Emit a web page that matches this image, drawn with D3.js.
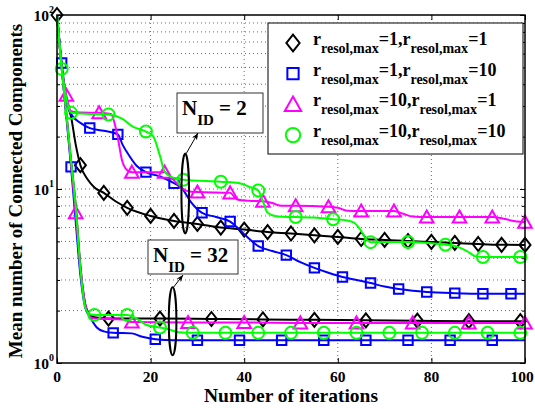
<!DOCTYPE html>
<html>
<head>
<meta charset="utf-8">
<script src="https://cdn.jsdelivr.net/npm/d3@7"></script>
<style>
  body { margin: 0; background: #fff; }
  text { font-family: "Liberation Serif", "Times New Roman", serif; font-weight: bold; fill: #000; }
</style>
</head>
<body>
<div id="chart"></div>
<script>
// axis ticks
const iterTicks = [0, 20, 40, 60, 80, 100];
const decadeTicks = [1, 10, 100];

// r_resol,max=1, r_resol,max=1 (black diamonds)
const blackN2 = [[0,100],[1,50],[2,32],[3,26],[4,18],[5,13.7],[6.6,11.3],[8,10.2],[10,9.5],[12.5,8.5],[15,7.8],[20,7.0],[25,6.55],[30,6.3],[35,6.0],[40,5.85],[45,5.66],[50,5.55],[55,5.42],[60,5.3],[65,5.16],[70,5.1],[75,5.02],[80,4.96],[85,4.9],[90,4.83],[95,4.78],[100,4.77]];
const blackN2Marks = [0,5,10,15,20,25,30,35,40,45,50,55,60,65,70,75,80,85,90,95,100];
const blackN32 = [[0,100],[1,50],[2,27],[3,14.5],[4,8],[5,3.6],[6,2.2],[7,1.9],[8,1.83],[11,1.8],[22,1.8],[33,1.79],[44,1.78],[55,1.77],[66,1.76],[77,1.75],[88,1.74],[99,1.74],[100,1.74]];
const blackN32Marks = [11,22,33,44,55,66,77,88,99];

// r_resol,max=1, r_resol,max=10 (blue squares)
const blueN2 = [[0,100],[1,53],[2,33],[3,27],[5,24],[7,22.4],[10,21.6],[13,20.6],[14,18],[15.6,15.3],[17,13.6],[19,12.5],[22,11.8],[25,10.8],[26.7,10.1],[28.5,8.5],[31,7.3],[34,6.9],[37,6.5],[40,5.5],[43,4.7],[46,4.4],[49,4.17],[52,3.8],[55,3.52],[58,3.3],[61,3.12],[64,3.0],[67,2.88],[70,2.75],[73,2.66],[76,2.6],[79,2.56],[85,2.52],[91,2.5],[97,2.5],[100,2.5]];
const blueN2Marks = [1,7,13,19,25,31,37,43,49,55,61,67,73,79,85,91,97];
const blueN32 = [[0,100],[1,50],[2,26],[3,13.4],[4,6.5],[5,3.2],[6,2.1],[7,1.85],[8.5,1.6],[10,1.52],[12,1.49],[16,1.48],[18,1.42],[21,1.37],[25,1.35],[30,1.35],[39,1.35],[48,1.35],[57,1.35],[66,1.35],[75,1.35],[84,1.35],[93,1.35],[100,1.35]];
const blueN32Marks = [3,12,21,30,39,48,57,66,75,84,93];

// r_resol,max=10, r_resol,max=1 (magenta triangles)
const magentaN2 = [[0,100],[1,50],[2,34.6],[3,28],[5,27.5],[9,27.4],[11.5,27],[12.8,21],[13.9,14.6],[15.2,12.7],[16,12.5],[23,12.5],[24.5,11.6],[26,10.5],[28,9.7],[30,9.6],[37,9.5],[38.5,8.7],[41,8.55],[44,8.5],[46,8.3],[48,8.0],[51,8.0],[58,7.9],[60,7.8],[62,7.5],[65,7.47],[72,7.47],[74,7.2],[76,6.95],[79,6.9],[86,6.9],[93,6.9],[95,6.8],[97,6.6],[100,6.45]];
const magentaN2Marks = [2,9,16,23,30,37,44,51,58,65,72,79,86,93,100];
const magentaN32 = [[0,100],[1,50],[2,27],[3,14],[4,7.3],[5,3.5],[6,2.2],[7,1.85],[8,1.8],[14,1.78],[16,1.72],[28,1.71],[40,1.71],[52,1.7],[64,1.7],[76,1.7],[88,1.7],[100,1.7]];
const magentaN32Marks = [4,16,28,40,52,64,76,88,100];

// r_resol,max=10, r_resol,max=10 (green circles)
const greenN2 = [[0,100],[1,50],[2,33],[3,27.4],[7,27],[11,26.8],[13.9,25.4],[16.2,22.8],[19,21.4],[20.5,20.2],[22,15.5],[23,12.6],[24.5,11.7],[27,11.3],[35,11.0],[39,10.8],[41,10.3],[43,9.8],[44,8.5],[45,7.3],[47,6.95],[51,6.9],[55,6.85],[59,6.7],[62,6.6],[63.5,6.4],[64.7,5.9],[66.2,5.1],[67,4.95],[75,4.96],[83,4.78],[85,4.7],[87.6,4.4],[89.5,4.1],[91,4.07],[99,4.07],[100,4.07]];
const greenN2Marks = [3,11,19,27,35,43,51,59,67,75,83,91,99];
const greenN32 = [[0,100],[1,49],[2,27],[3,14.5],[4,8],[5,3.5],[6,2.1],[7,1.9],[8,1.89],[15,1.89],[17,1.8],[19,1.66],[22,1.6],[24,1.56],[26,1.5],[29,1.49],[36,1.49],[43,1.49],[50,1.49],[57,1.49],[64,1.49],[71,1.49],[78,1.49],[85,1.49],[92,1.49],[99,1.49],[100,1.49]];
const greenN32Marks = [1,8,15,22,29,36,43,50,57,64,71,78,85,92,99];

const legendValues = [['1', '1'], ['1', '10'], ['10', '1'], ['10', '10']];

const margin = { top: 15, right: 10, bottom: 46, left: 57 };
const width = 535 - margin.left - margin.right;
const height = 409 - margin.top - margin.bottom;

const series = [
  { color: '#000000', symbol: 'diamond', curves: [[blackN2, blackN2Marks], [blackN32, blackN32Marks]] },
  { color: '#0000ff', symbol: 'square', curves: [[blueN2, blueN2Marks], [blueN32, blueN32Marks]] },
  { color: '#ff00ff', symbol: 'triangle', curves: [[magentaN2, magentaN2Marks], [magentaN32, magentaN32Marks]] },
  { color: '#00ff00', symbol: 'circle', curves: [[greenN2, greenN2Marks], [greenN32, greenN32Marks]] }
];

function symbolPath(type, k) {
  if (type === 'diamond') return `M0,${-7*k}L${5.5*k},0L0,${7*k}L${-5.5*k},0Z`;
  if (type === 'square') return `M${-4.7*k},${-4.7*k}h${9.4*k}v${9.4*k}h${-9.4*k}Z`;
  if (type === 'triangle') return `M0,${-6.5*k}L${6.8*k},${5.5*k}L${-6.8*k},${5.5*k}Z`;
  const r = 6 * k;
  return `M${r},0A${r},${r} 0 1,1 ${-r},0A${r},${r} 0 1,1 ${r},0Z`;
}

const svg = d3.select('#chart')
  .append('svg')
  .attr('width', 535)
  .attr('height', 409);

svg.append('defs').append('marker')
  .attr('id', 'arrow')
  .attr('viewBox', '0 0 10 10')
  .attr('refX', 10).attr('refY', 5)
  .attr('markerWidth', 7).attr('markerHeight', 7)
  .attr('orient', 'auto')
  .append('path')
  .attr('d', 'M0,1L10,5L0,9L3,5Z')
  .attr('fill', '#000');

const g = svg.append('g')
  .attr('transform', `translate(${margin.left},${margin.top})`);

const x = d3.scaleLinear().domain([0, 100]).range([0, width]);
const y = d3.scaleLog().domain([1, 100]).range([height, 0]);

const allY = y.ticks();

// grid
g.append('g').selectAll('line')
  .data(iterTicks.filter(d => d > 0 && d < 100))
  .enter().append('line')
  .attr('x1', d => x(d)).attr('x2', d => x(d))
  .attr('y1', 0).attr('y2', height)
  .attr('stroke', '#444').attr('stroke-width', 0.8)
  .attr('stroke-dasharray', '1,3');

g.append('g').selectAll('line')
  .data(allY.filter(d => d > 1 && d < 100))
  .enter().append('line')
  .attr('x1', 0).attr('x2', width)
  .attr('y1', d => y(d)).attr('y2', d => y(d))
  .attr('stroke', '#444').attr('stroke-width', 0.8)
  .attr('stroke-dasharray', '1,3');

// inward ticks on all sides
const xAxisB = g.append('g').attr('transform', `translate(0,${height})`)
  .call(d3.axisBottom(x).tickValues(iterTicks).tickSizeInner(-5).tickSizeOuter(0).tickFormat(''));
const xAxisT = g.append('g')
  .call(d3.axisTop(x).tickValues(iterTicks).tickSizeInner(-5).tickSizeOuter(0).tickFormat(''));
const yAxisL = g.append('g')
  .call(d3.axisLeft(y).tickValues(allY).tickSizeInner(-3).tickSizeOuter(0).tickFormat(''));
const yAxisR = g.append('g').attr('transform', `translate(${width},0)`)
  .call(d3.axisRight(y).tickValues(allY).tickSizeInner(-3).tickSizeOuter(0).tickFormat(''));
yAxisL.selectAll('.tick line').filter(d => decadeTicks.includes(d)).attr('x2', 5);
yAxisR.selectAll('.tick line').filter(d => decadeTicks.includes(d)).attr('x2', -5);
[xAxisB, xAxisT, yAxisL, yAxisR].forEach(a => {
  a.select('.domain').remove();
  a.selectAll('.tick line').attr('stroke', '#000').attr('stroke-width', 1);
});

// tick labels (last one nudged in so it is not cut by the page edge)
g.append('g').selectAll('text')
  .data(iterTicks)
  .enter().append('text')
  .attr('x', d => x(d) - (d === 100 ? 3 : 0))
  .attr('y', height + 19)
  .attr('text-anchor', 'middle')
  .style('font-size', '15.5px')
  .text(d => d);

const yLab = g.append('g').selectAll('text')
  .data(decadeTicks)
  .enter().append('text')
  .attr('x', -3)
  .attr('y', d => y(d) + 6)
  .attr('text-anchor', 'end')
  .style('font-size', '15.5px');
yLab.append('tspan').text('10');
yLab.append('tspan')
  .attr('dy', -8)
  .style('font-size', '10px')
  .text(d => Math.round(Math.log10(d)));

// curves
const line = d3.line()
  .x(d => x(d[0]))
  .y(d => y(d[1]))
  .curve(d3.curveMonotoneX);

series.forEach(s => {
  s.curves.forEach(([pts, marks]) => {
    g.append('path')
      .datum(pts)
      .attr('d', line)
      .attr('fill', 'none')
      .attr('stroke', s.color)
      .attr('stroke-width', 2);
    const lookup = new Map(pts.map(p => [p[0], p[1]]));
    g.append('g').selectAll('path')
      .data(marks)
      .enter().append('path')
      .attr('transform', d => `translate(${x(d)},${y(lookup.get(d))})`)
      .attr('d', symbolPath(s.symbol, 1))
      .attr('fill', 'none')
      .attr('stroke', s.color)
      .attr('stroke-width', 2);
  });
});

// frame
g.append('rect')
  .attr('width', width).attr('height', height)
  .attr('fill', 'none').attr('stroke', '#000').attr('stroke-width', 1.5);

// annotations: ellipse around the curve group, boxed label, arrow
function annotate(cx, cyVal, ry, box, label, arrowTo) {
  const ex = x(cx), ey = y(cyVal);
  g.append('ellipse')
    .attr('cx', ex).attr('cy', ey)
    .attr('rx', 3.8).attr('ry', ry)
    .attr('fill', 'none').attr('stroke', '#000').attr('stroke-width', 2);
  g.append('rect')
    .attr('x', box[0]).attr('y', box[1]).attr('width', box[2]).attr('height', box[3])
    .attr('fill', '#fff').attr('stroke', '#333').attr('stroke-width', 1);
  g.append('line')
    .attr('x1', ex + 1).attr('y1', ey - ry)
    .attr('x2', arrowTo[0]).attr('y2', arrowTo[1])
    .attr('stroke', '#000').attr('stroke-width', 1)
    .attr('marker-end', 'url(#arrow)');
  const t = g.append('text')
    .attr('x', box[0] + 5)
    .attr('y', box[1] + 22)
    .style('font-size', '21px');
  t.append('tspan').text('N');
  t.append('tspan').attr('dy', 10).style('font-size', '15px').text('ID');
  t.append('tspan').attr('dy', -10).text(' = ' + label);
}
annotate(27.4, 9.42, 40, [120, 78, 86, 40], '2', [141, 118]);
annotate(24.7, 1.74, 34, [91, 225, 90, 34], '32', [126, 260]);

// legend
const lg = g.append('g').attr('transform', `translate(${268 - margin.left},${23 - margin.top})`);
lg.append('rect')
  .attr('width', 255).attr('height', 131)
  .attr('fill', '#fff').attr('stroke', '#000').attr('stroke-width', 1);
series.forEach((s, i) => {
  const row = lg.append('g').attr('transform', `translate(0,${20 + i * 30.7})`);
  row.append('path')
    .attr('transform', 'translate(25,0)')
    .attr('d', symbolPath(s.symbol, 1.2))
    .attr('fill', 'none')
    .attr('stroke', s.color)
    .attr('stroke-width', 2);
  const t = row.append('text')
    .attr('x', 45).attr('y', 2)
    .style('font-size', '18px');
  t.append('tspan').text('r');
  t.append('tspan').attr('dy', 8).style('font-size', '14px').text('resol,max');
  t.append('tspan').attr('dy', -8).text('=' + legendValues[i][0] + ',r');
  t.append('tspan').attr('dy', 8).style('font-size', '14px').text('resol,max');
  t.append('tspan').attr('dy', -8).text('=' + legendValues[i][1]);
});

// axis titles
svg.append('text')
  .attr('x', margin.left + width / 2)
  .attr('y', 402)
  .attr('text-anchor', 'middle')
  .style('font-size', '19.5px')
  .text('Number of iterations');

svg.append('text')
  .attr('transform', `translate(22,${margin.top + height / 2 + 2}) rotate(-90)`)
  .attr('text-anchor', 'middle')
  .style('font-size', '19px')
  .text('Mean number of Connected Components');
</script>
</body>
</html>
